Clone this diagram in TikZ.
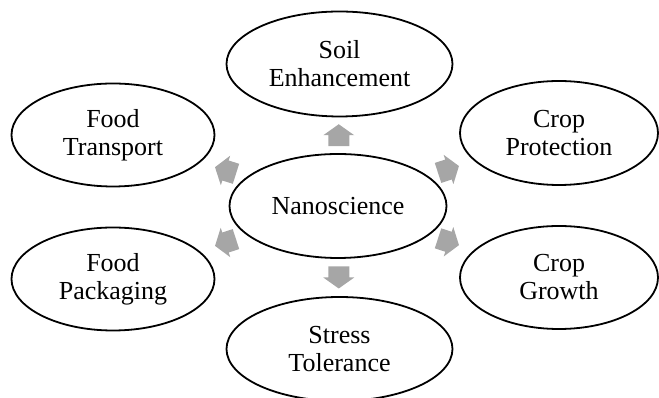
\documentclass[tikz,border=0pt]{standalone}
\usepackage{fontspec}
\setmainfont{Liberation Serif}
\usetikzlibrary{shapes.geometric,calc}
\definecolor{arrowgray}{HTML}{A6A6A6}
\tikzset{
  oval/.style={ellipse, draw=black, line width=1.8pt, inner sep=0pt, align=center,
    font=\fontsize{26}{28}\selectfont},
  blockarrow/.pic={
    \fill[arrowgray] (-11,-10.5) -- (0,-10.5) -- (0,-15.5) -- (11,0) -- (0,15.5) -- (0,10.5) -- (-11,10.5) -- cycle;
  }
}
\begin{document}
\begin{tikzpicture}[x=1pt,y=1pt]
\useasboundingbox (0,0) rectangle (659,398);
\node[oval, minimum width=217pt, minimum height=104pt] (nano) at (338,192) {Nanoscience};
\node[oval, minimum width=226pt, minimum height=105pt] (soil) at (339.5,334) {Soil\\Enhancement};
\node[oval, minimum width=203pt, minimum height=103pt] (ft) at (113,263) {Food\\Transport};
\node[oval, minimum width=198pt, minimum height=104pt] (cp) at (559,265) {Crop\\Protection};
\node[oval, minimum width=203pt, minimum height=103pt] (fp) at (113,119) {Food\\Packaging};
\node[oval, minimum width=198pt, minimum height=103pt] (cg) at (559,120.5) {Crop\\Growth};
\node[oval, minimum width=226pt, minimum height=104pt] (st) at (339.5,49) {Stress\\Tolerance};
\pic[rotate=90] at ($(nano.north)!0.5!(soil.south)$) {blockarrow};
\pic[rotate=-90] at ($(nano.south)!0.5!(st.north)$) {blockarrow};
\pic[rotate=162.5] at ($(nano)!0.5!(ft)$) {blockarrow};
\pic[rotate=18.3] at ($(nano)!0.5!(cp)$) {blockarrow};
\pic[rotate=198] at ($(nano)!0.5!(fp)$) {blockarrow};
\pic[rotate=-18] at ($(nano)!0.5!(cg)$) {blockarrow};
\end{tikzpicture}
\end{document}
